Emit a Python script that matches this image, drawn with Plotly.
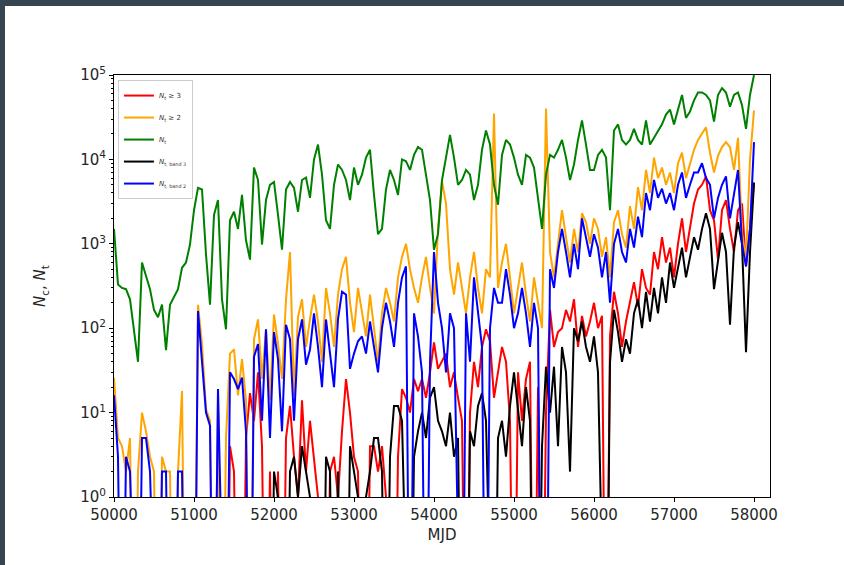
import numpy as np
import plotly.graph_objects as go

# MJD sampling grid (every 50 days)
mjd = list(range(50000, 58001, 50))

n_t = [1500, 330, 300, 290, 220, 97, 40, 600, 430, 290,
       165, 135, 190, 55, 190, 230, 290, 520, 600, 980,
       2500, 4600, 4400, 750, 190, 2200, 3300, 220, 97, 1900,
       2400, 1500, 3800, 1100, 650, 8000, 5700, 980, 3300, 5000,
       5400, 2200, 850, 4400, 5400, 4600, 2400, 5700, 6100, 3500,
       10000, 15000, 6600, 1900, 1500, 5000, 8700, 7500, 5700, 3300,
       8000, 5000, 6600, 10500, 13000, 3800, 1300, 1500, 4400, 7500,
       5700, 3800, 10000, 9500, 7500, 11300, 14000, 13000, 6600, 3300,
       850, 1300, 5700, 10000, 19500, 10500, 5000, 5700, 7500, 6600,
       3300, 5000, 13000, 22000, 15000, 5000, 2900, 11300, 17000, 15000,
       10500, 6600, 5000, 11300, 10500, 8000, 3300, 1500, 6600, 11300,
       10500, 13000, 17000, 10500, 5700, 8700, 17000, 29000, 15000, 7500,
       7500, 11300, 13000, 10500, 2500, 22000, 26000, 17000, 15000, 17000,
       23000, 17000, 15000, 29000, 15000, 18000, 21000, 26000, 34000, 39000,
       26000, 39000, 58000, 31000, 37000, 50000, 62000, 62000, 58000, 50000,
       28000, 58000, 70000, 62000, 42000, 58000, 62000, 44000, 23000, 58000,
       100000]

n_ge2 = [26, 5, 4, 2, 5, 0, 2, 10, 6, 3,
         2, 0, 3, 2, 2, 0, 2, 18, 0, 0,
         0, 190, 65, 11, 8, 0, 19, 0, 5, 50,
         56, 16, 43, 14, 0, 74, 127, 25, 97, 14,
         145, 65, 25, 220, 800, 16, 135, 220, 60, 127,
         250, 120, 40, 300, 150, 60, 250, 500, 700, 200,
         90, 300, 150, 80, 250, 100, 40, 150, 300, 200,
         120, 400, 700, 1000, 500, 300, 200, 400, 700, 300,
         150, 1500, 5500, 3000, 500, 250, 600, 300, 150, 400,
         800, 300, 150, 500, 400, 35000, 300, 600, 1000, 400,
         150, 300, 600, 250, 120, 400, 200, 100, 40000, 800,
         400, 1000, 2500, 1200, 600, 1500, 800, 2300, 1800, 1000,
         2000, 1500, 700, 1200, 400, 1800, 2500, 1300, 900, 2800,
         1500, 4700, 2500, 7500, 4000, 10500, 6000, 8000, 5000, 7000,
         4000, 9000, 12000, 6000, 9000, 13000, 17000, 20000, 24000, 12000,
         7000, 11000, 14000, 16000, 14000, 7500, 18000, 1350, 650, 10000,
         38000]

n_ge3 = [0, 0, 0, 0, 0, 0, 0, 0, 0, 0,
         0, 0, 0, 0, 0, 0, 0, 0, 0, 0,
         0, 0, 0, 0, 0, 0, 0, 0, 0, 4,
         2, 0, 0, 5, 17, 8, 30, 4, 0, 2,
         0, 2, 0, 5, 12, 3, 1, 14, 2, 8,
         3, 1, 0, 0, 2, 3, 1, 6, 25, 10,
         3, 2, 0, 0, 4, 4, 2, 4, 1, 0,
         0, 3, 19, 15, 10, 25, 18, 25, 15, 30,
         68, 33, 40, 50, 20, 30, 15, 8, 0, 10,
         40, 20, 60, 97, 70, 15, 30, 60, 40, 8,
         0, 30, 8, 25, 40, 0, 20, 0, 10, 165,
         60, 90, 100, 165, 120, 220, 60, 140, 80, 120,
         200, 100, 140, 0, 80, 270, 150, 60, 120, 200,
         350, 180, 500, 300, 250, 800, 500, 1200, 600, 900,
         400, 1000, 2000, 800, 1500, 3000, 4400, 5000, 6300, 2500,
         1900, 650, 2500, 3300, 1500, 800, 2500, 3000, 540, 1500,
         5300]

n_band3 = [0, 0, 0, 0, 0, 0, 0, 0, 0, 0,
           0, 0, 0, 0, 0, 0, 0, 0, 0, 0,
           0, 0, 0, 0, 0, 0, 0, 0, 0, 0,
           0, 0, 0, 0, 0, 0, 0, 0, 0, 0,
           2, 1, 0, 0, 2, 3, 1, 4, 2, 1,
           0, 0, 0, 3, 2, 0, 2, 0, 0, 4,
           2, 1, 0, 1, 2, 5, 5, 2, 0, 3,
           12, 12, 8, 0, 0, 3, 6, 10, 5, 15,
           20, 8, 6, 4, 10, 3, 5, 0, 0, 6,
           4, 12, 17, 8, 0, 0, 5, 8, 3, 12,
           30, 10, 4, 20, 8, 0, 0, 4, 35, 10,
           35, 4, 60, 30, 2, 100, 70, 120, 60, 40,
           80, 30, 0, 0, 39, 165, 90, 40, 74, 50,
           150, 220, 100, 270, 120, 300, 150, 400, 200, 600,
           300, 500, 900, 400, 700, 1200, 850, 1500, 2300, 1500,
           290, 600, 1350, 800, 110, 900, 1800, 1000, 52, 800,
           5300]

n_band2 = [16, 3, 0, 3, 2, 0, 0, 5, 5, 2,
           0, 0, 2, 2, 0, 0, 2, 2, 0, 0,
           0, 160, 43, 10, 7, 0, 19, 0, 0, 30,
           25, 19, 26, 6, 0, 46, 65, 8, 97, 5,
           90, 43, 6, 110, 74, 8, 74, 127, 37, 56,
           150, 60, 20, 127, 50, 20, 127, 270, 250, 33,
           50, 70, 80, 50, 120, 60, 30, 100, 200, 120,
           60, 200, 400, 540, 0, 150, 80, 30, 0, 40,
           800, 200, 100, 30, 150, 100, 0, 0, 150, 40,
           400, 150, 60, 0, 100, 300, 200, 200, 500, 250,
           100, 150, 300, 150, 60, 200, 100, 0, 0, 500,
           300, 800, 1500, 800, 400, 1000, 500, 2000, 1200, 700,
           1300, 900, 400, 800, 200, 1000, 1500, 800, 600, 1500,
           900, 2100, 1200, 4000, 2500, 5700, 3500, 4500, 3000, 4000,
           2500, 5000, 7000, 3500, 5000, 7000, 7000, 9000, 6000, 5000,
           2000, 3500, 5000, 6300, 2000, 4000, 7500, 1000, 540, 1500,
           16000]

x_ticks = [50000, 51000, 52000, 53000, 54000, 55000, 56000, 57000, 58000]
y_ticks = [1, 10, 100, 1000, 10000, 100000]
y_tick_text = ["10<sup>0</sup>", "10<sup>1</sup>", "10<sup>2</sup>",
               "10<sup>3</sup>", "10<sup>4</sup>", "10<sup>5</sup>"]
y_minor = [m * d for d in [1, 10, 100, 1000, 10000] for m in range(2, 10)]

series = [
    ("<i>N</i><sub>t</sub> ≥ 3", n_ge3, "red"),
    ("<i>N</i><sub>t</sub> ≥ 2", n_ge2, "orange"),
    ("<i>N</i><sub>t</sub>", n_t, "green"),
    ("<i>N</i><sub>t, band 3</sub>", n_band3, "black"),
    ("<i>N</i><sub>t, band 2</sub>", n_band2, "blue"),
]

fig = go.Figure()
for k, (name, vals, col) in enumerate(series):
    v = np.array(vals, dtype=float)
    v = np.where(v > 0, v, 1e-3)  # zeros drop below the log axis, like matplotlib clipping
    fig.add_trace(go.Scatter(x=mjd, y=v, mode="lines", name=name, legendgroup=f"g{k}",
                             line=dict(color=col, width=2), cliponaxis=True))

W, H = 844, 565
L, R, T, B = 114, 74, 75, 68
pw, ph = W - L - R, H - T - B
def px(xp):
    return (xp - L) / pw
def py(yp):
    return (H - B - yp) / ph

dark = "#36454f"
shapes = [
    dict(type="rect", xref="paper", yref="paper", x0=px(0), x1=px(5), y0=py(H), y1=py(0),
         fillcolor=dark, line=dict(width=0), layer="below"),
    dict(type="rect", xref="paper", yref="paper", x0=px(0), x1=px(W), y0=py(6), y1=py(-1),
         fillcolor=dark, line=dict(width=0), layer="above"),
]

fig.update_layout(
    width=W, height=H,
    margin=dict(l=L, r=R, t=T, b=B, pad=0),
    paper_bgcolor="white", plot_bgcolor="white",
    font=dict(family="DejaVu Sans", size=15, color="#262626"),
    shapes=shapes,
    showlegend=True,
    legend=dict(x=0.006, y=0.988, xanchor="left", yanchor="top",
                bgcolor="white", bordercolor="#cccccc", borderwidth=1,
                font=dict(size=7, color="#333333"), itemwidth=30,
                tracegroupgap=3),
    xaxis=dict(type="linear", range=[50000, 58200], tickvals=x_ticks, tickformat="d",
               ticks="outside", ticklen=4, tickcolor="black",
               showline=True, linecolor="black", linewidth=1, mirror=True,
               showgrid=False, zeroline=False,
               title=dict(text="MJD", standoff=6, font=dict(size=15))),
    yaxis=dict(type="log", range=[0, 5], tickvals=y_ticks, ticktext=y_tick_text,
               ticks="outside", ticklen=4, tickcolor="black",
               minor=dict(tickmode="array", tickvals=y_minor, ticks="outside", ticklen=2,
                          tickcolor="black", showgrid=False),
               showline=True, linecolor="black", linewidth=1, mirror=True,
               showgrid=False, zeroline=False,
               title=dict(text="<i>N</i><sub>c</sub>, <i>N</i><sub>t</sub>", standoff=30,
                          font=dict(size=15))),
)

fig.write_html("out.html", config={"displayModeBar": False},
               post_script="document.body.style.margin='0';document.body.style.overflow='hidden';"
                           "document.body.style.background='" + dark + "';")
